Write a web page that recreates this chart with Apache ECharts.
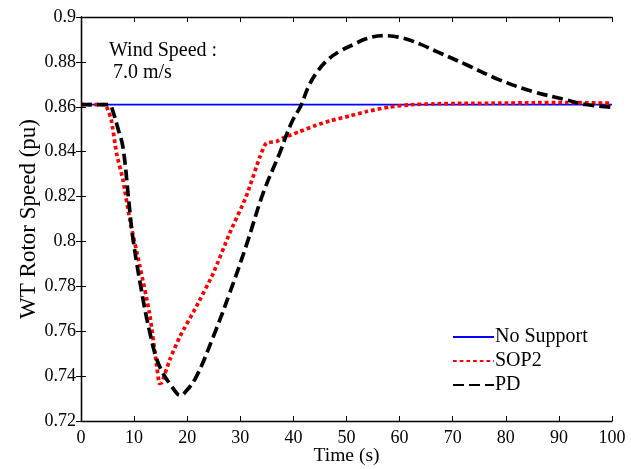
<!DOCTYPE html>
<html>
<head>
<meta charset="utf-8">
<script src="https://cdn.jsdelivr.net/npm/echarts@6/dist/echarts.min.js"></script>
<style>html,body{margin:0;padding:0;background:#fff}#c{width:631px;height:469px}</style>
</head>
<body>
<div id="c"></div>
<script>
const xTicks = [0,10,20,30,40,50,60,70,80,90,100];
const yTicks = [0.72,0.74,0.76,0.78,0.8,0.82,0.84,0.86,0.88,0.9];

const noSupportTime = [0, 100];
const noSupportVals = [0.861, 0.861];

const sop2Time = [0, 4.5, 5, 5.7, 6.7, 7.9, 9.2, 11.1, 12.9, 14.2, 14.8, 15.2, 16.7, 18.6, 21.7, 24.9, 28, 31.1, 33.7, 34.9, 36.8, 38, 41, 44.3, 47, 50.6, 54, 58.1, 62, 66.3, 72, 78.8, 85, 91.4, 100];
const sop2Vals = [0.861, 0.861, 0.859, 0.8542, 0.8393, 0.8274, 0.8096, 0.7888, 0.768, 0.7457, 0.7367, 0.737, 0.7472, 0.7575, 0.7709, 0.7858, 0.8037, 0.820, 0.8378, 0.8438, 0.8445, 0.846, 0.8488, 0.8518, 0.8538, 0.8559, 0.858, 0.8599, 0.8609, 0.8613, 0.8615, 0.8616, 0.8618, 0.8619, 0.8616];

const pdTime = [0, 5, 5.5, 6, 7, 7.9, 9, 9.8, 11.7, 13, 14.2, 15.5, 16.7, 18, 18.6, 19.5, 21.7, 24.9, 28, 31.1, 34.3, 37.4, 39.6, 41.5, 42.7, 44.3, 46.5, 48.7, 51.2, 53.7, 56.9, 60.6, 64, 66.9, 72.6, 78.8, 85.1, 91.4, 95, 100];
const pdVals = [0.861, 0.861, 0.8608, 0.858, 0.850, 0.842, 0.818, 0.801, 0.774, 0.759, 0.748, 0.741, 0.7367, 0.7325, 0.7315, 0.7325, 0.7397, 0.7575, 0.777, 0.798, 0.8215, 0.8393, 0.8527, 0.8609, 0.8683, 0.875, 0.881, 0.8847, 0.8876, 0.8903, 0.8917, 0.8906, 0.8878, 0.8847, 0.8787, 0.872, 0.8668, 0.8631, 0.861, 0.8598];

const zip = (t, v) => t.map((x, i) => [x, v[i]]);
const FONT = 'Liberation Serif';

const chart = echarts.init(document.getElementById('c'), null, {renderer: 'canvas'});
const axisCommon = {
  axisLine: {show: true, lineStyle: {color: '#000', width: 1.3}},
  axisTick: {show: true, inside: true, length: 5, lineStyle: {color: '#000', width: 1}},
  splitLine: {show: false}
};
chart.setOption({
  animation: false,
  backgroundColor: '#fff',
  grid: {left: 81, right: 19, top: 17, bottom: 48, containLabel: false, outerBoundsMode: 'none'},
  xAxis: [
    Object.assign({}, axisCommon, {
      type: 'value', min: 0, max: 100, interval: 10, position: 'bottom',
      axisLabel: {color: '#000', fontFamily: FONT, fontSize: 18, margin: 8, formatter: v => xTicks.includes(v) ? String(v) : ''},
      name: 'Time (s)', nameLocation: 'middle', nameGap: 25, nameMoveOverlap: false,
      nameTextStyle: {color: '#000', fontFamily: FONT, fontSize: 19.5, verticalAlign: 'top'}
    }),
    Object.assign({}, axisCommon, {
      type: 'value', min: 0, max: 100, interval: 10, position: 'top',
      axisLabel: {show: false}
    })
  ],
  yAxis: [
    Object.assign({}, axisCommon, {
      type: 'value', min: 0.72, max: 0.9, interval: 0.02, position: 'left',
      axisLabel: {color: '#000', fontFamily: FONT, fontSize: 18, margin: 5,
        formatter: v => { const m = yTicks.find(t => Math.abs(t - v) < 1e-9); return m === undefined ? '' : String(m); }},
      name: 'WT Rotor Speed (pu)', nameLocation: 'middle', nameGap: 41, nameMoveOverlap: false,
      nameTextStyle: {color: '#000', fontFamily: FONT, fontSize: 23}
    }),
    Object.assign({}, axisCommon, {
      type: 'value', min: 0.72, max: 0.9, interval: 0.02, position: 'right',
      axisLabel: {show: false}
    })
  ],
  legend: {
    orient: 'vertical', left: 447, top: 322,
    itemWidth: 41, itemHeight: 14, itemGap: 4,
    itemStyle: {opacity: 0},
    textStyle: {color: '#000', fontFamily: FONT, fontSize: 20, lineHeight: 20, padding: [0,0,0,-4]},
    data: ['No Support', 'SOP2', 'PD']
  },
  graphic: [
    {type: 'text', left: 109, top: 41, style: {text: 'Wind Speed :', fill: '#000', font: '20px "Liberation Serif"'}},
    {type: 'text', left: 113, top: 63, style: {text: '7.0 m/s', fill: '#000', font: '20px "Liberation Serif"'}}
  ],
  series: [
    {name: 'No Support', type: 'line', data: zip(noSupportTime, noSupportVals), symbol: 'none', z: 2,
     lineStyle: {color: '#0000ff', width: 1.8}, itemStyle: {color: '#0000ff'}},
    {name: 'SOP2', type: 'line', data: zip(sop2Time, sop2Vals), symbol: 'none', smooth: 0.2, z: 3,
     lineStyle: {color: '#ff0000', width: 3.7, type: [3.7, 3], cap: 'butt'}, itemStyle: {color: '#ff0000'}},
    {name: 'PD', type: 'line', data: zip(pdTime, pdVals), symbol: 'none', smooth: 0.4, z: 4,
     lineStyle: {color: '#000', width: 3.7, type: [11, 5], cap: 'butt'}, itemStyle: {color: '#000'}}
  ]
});
</script>
</body>
</html>
